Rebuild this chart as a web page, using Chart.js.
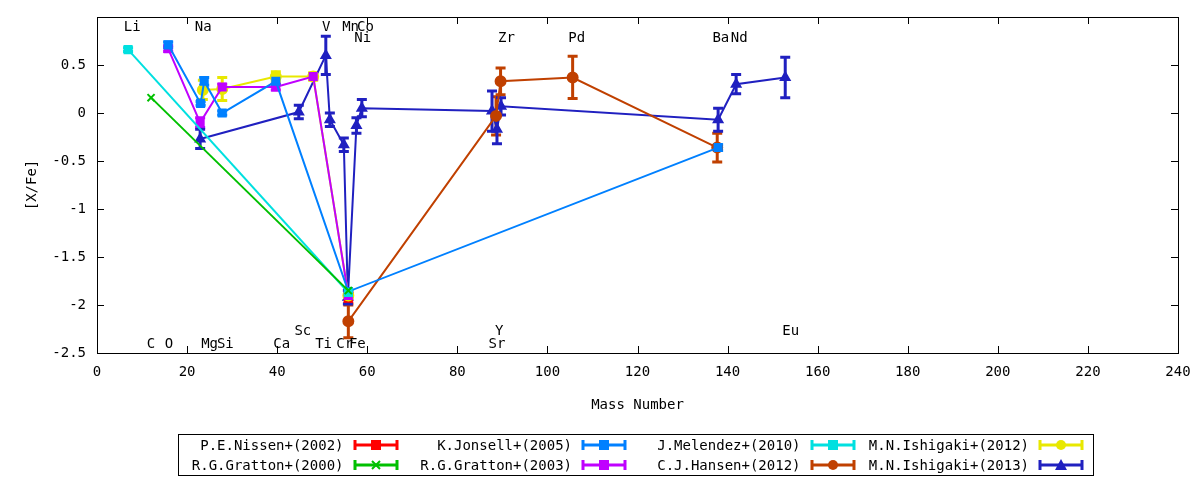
<!DOCTYPE html>
<html><head><meta charset="utf-8">
<script src="https://cdn.jsdelivr.net/npm/chart.js@4/dist/chart.umd.min.js"></script>
<style>
body{margin:0;background:#fff;}
#wrap{position:relative;width:1200px;height:480px;}
#legend{position:absolute;left:178px;top:434px;width:914px;height:40px;border:1px solid #000;
 font:14px "DejaVu Sans Mono",monospace;display:grid;grid-template-columns:repeat(4,1fr);}
.it{display:flex;align-items:center;justify-content:flex-end;padding-right:8px;height:20px;}
.it span{margin-right:8px;}
</style></head><body>
<div id="wrap"><canvas id="c" width="1200" height="480"></canvas><div id="legend"></div></div>
<script>
var nissenX = [55.8], nissenY = [-1.93], nissenE = [0.05];
var gratton00X = [12, 55.8], gratton00Y = [0.16, -1.85], gratton00E = [0, 0];
var jonsellX = [15.8, 23, 23.8, 27.8, 39.7, 55.8, 137.9], jonsellY = [0.71, 0.10, 0.33, 0.0, 0.33, -1.86, -0.36], jonsellE = [0.03, 0.02, 0.04, 0.02, 0.03, 0.02, 0.03];
var gratton03X = [15.8, 22.9, 27.8, 39.7, 48, 55.8], gratton03Y = [0.67, -0.10, 0.27, 0.27, 0.38, -1.90], gratton03E = [0.03, 0.05, 0.03, 0.03, 0.03, 0.03];
var melendezX = [6.9, 55.8], melendezY = [0.66, -1.87], melendezE = [0.02, 0.02];
var hansenX = [55.8, 88.6, 89.6, 105.6, 137.7], hansenY = [-2.17, -0.03, 0.33, 0.37, -0.36], hansenE = [0.17, 0.2, 0.14, 0.22, 0.15];
var ishi12X = [23.5, 27.8, 39.7, 48, 55.8], ishi12Y = [0.24, 0.25, 0.38, 0.38, -1.9], ishi12E = [0.1, 0.12, 0.05, 0.04, 0.03];
var ishi13X = [22.9, 44.8, 50.8, 51.7, 54.8, 55.7, 57.6, 58.8, 87.7, 88.8, 89.7, 137.9, 141.9, 152.8];
var ishi13Y = [-0.27, 0.01, 0.6, -0.07, -0.33, -1.92, -0.13, 0.05, 0.02, -0.17, 0.07, -0.07, 0.30, 0.37];
var ishi13E = [0.1, 0.07, 0.2, 0.07, 0.07, 0.07, 0.08, 0.09, 0.21, 0.15, 0.09, 0.12, 0.1, 0.21];

var elemNames = ["Li","Na","V","Mn","Co","Ni","Zr","Pd","Ba","Nd","C","O","Mg","Si","Ca","Sc","Ti","Cr","Fe","Y","Sr","Eu"];
var elemX = [7.8,23.6,50.9,56.3,59.6,59,90.9,106.5,138.5,142.6,12,16,25,28.5,41,45.7,50.3,55,57.8,89.3,88.8,154];
var elemY = [0.89,0.89,0.89,0.89,0.89,0.78,0.78,0.78,0.78,0.78,-2.41,-2.41,-2.41,-2.41,-2.41,-2.27,-2.41,-2.41,-2.41,-2.27,-2.41,-2.27];

function pts(xs, ys) { return xs.map(function(x, i){ return {x: x, y: ys[i]}; }); }

var series = [
	{label: "P.E.Nissen+(2002)", x: nissenX, y: nissenY, e: nissenE, color: "#ff0000", style: "rect"},
	{label: "K.Jonsell+(2005)", x: jonsellX, y: jonsellY, e: jonsellE, color: "#0080ff", style: "rect"},
	{label: "J.Melendez+(2010)", x: melendezX, y: melendezY, e: melendezE, color: "#00e0e0", style: "rect"},
	{label: "M.N.Ishigaki+(2012)", x: ishi12X, y: ishi12Y, e: ishi12E, color: "#e8e800", style: "circle"},
	{label: "R.G.Gratton+(2000)", x: gratton00X, y: gratton00Y, e: gratton00E, color: "#00c000", style: "crossRot"},
	{label: "R.G.Gratton+(2003)", x: gratton03X, y: gratton03Y, e: gratton03E, color: "#c000ff", style: "rect"},
	{label: "C.J.Hansen+(2012)", x: hansenX, y: hansenY, e: hansenE, color: "#c04000", style: "circle"},
	{label: "M.N.Ishigaki+(2013)", x: ishi13X, y: ishi13Y, e: ishi13E, color: "#2020c0", style: "triangle"}
];
var drawOrder = [4, 2, 1, 5, 3, 0, 6, 7];

var datasets = drawOrder.map(function(i){
	var s = series[i];
	return {
		label: s.label, data: pts(s.x, s.y), errs: s.e,
		borderColor: s.color, backgroundColor: s.color, borderWidth: 2,
		pointStyle: s.style, pointRadius: 5, pointBorderWidth: 2,
		showLine: true, lineTension: 0
	};
});

var FONT = '"DejaVu Sans Mono", monospace';

var extras = {
	id: "extras",
	beforeDatasetsDraw: function(chart){
		var ctx = chart.ctx, xs = chart.scales.x, ys = chart.scales.y;
		ctx.save();
		chart.data.datasets.forEach(function(ds){
			ctx.strokeStyle = ds.borderColor; ctx.lineWidth = 3;
			ds.data.forEach(function(p, i){
				var e = ds.errs[i]; if (!e) return;
				var px = xs.getPixelForValue(p.x), a = ys.getPixelForValue(p.y + e), b = ys.getPixelForValue(p.y - e);
				ctx.beginPath();
				ctx.moveTo(px, a); ctx.lineTo(px, b);
				ctx.moveTo(px - 5, a); ctx.lineTo(px + 5, a);
				ctx.moveTo(px - 5, b); ctx.lineTo(px + 5, b);
				ctx.stroke();
			});
		});
		ctx.restore();
	},
	afterDraw: function(chart){
		var ctx = chart.ctx, xs = chart.scales.x, ys = chart.scales.y, a = chart.chartArea;
		ctx.save();
		ctx.strokeStyle = "#000"; ctx.lineWidth = 1;
		ctx.strokeRect(a.left + 0.5, a.top + 0.5, a.right - a.left, a.bottom - a.top);
		ctx.beginPath();
		xs.ticks.forEach(function(t){
			var px = Math.round(xs.getPixelForValue(t.value)) + 0.5;
			ctx.moveTo(px, a.bottom); ctx.lineTo(px, a.bottom - 7);
			ctx.moveTo(px, a.top); ctx.lineTo(px, a.top + 7);
		});
		ys.ticks.forEach(function(t){
			var py = Math.round(ys.getPixelForValue(t.value)) + 0.5;
			ctx.moveTo(a.left, py); ctx.lineTo(a.left + 7, py);
			ctx.moveTo(a.right, py); ctx.lineTo(a.right - 7, py);
		});
		ctx.stroke();
		ctx.fillStyle = "#000"; ctx.font = "14px " + FONT;
		ctx.textAlign = "center"; ctx.textBaseline = "middle";
		elemNames.forEach(function(n, i){
			ctx.fillText(n, xs.getPixelForValue(elemX[i]), ys.getPixelForValue(elemY[i]));
		});
		ctx.fillText("Mass Number", (a.left + a.right) / 2, 405);
		ctx.translate(32, (a.top + a.bottom) / 2);
		ctx.rotate(-Math.PI / 2);
		ctx.fillText("[X/Fe]", 0, 0);
		ctx.restore();
	}
};

var chart = new Chart(document.getElementById("c"), {
	type: "scatter",
	data: {datasets: datasets},
	options: {
		responsive: false, animation: false,
		layout: {padding: {left: 0, right: 22, top: 17, bottom: 0}},
		plugins: {legend: {display: false}, tooltip: {enabled: false}},
		scales: {
			x: {min: 0, max: 240, ticks: {stepSize: 20, color: "#000", font: {family: FONT, size: 14}, maxRotation: 0},
				grid: {display: false}, border: {display: false},
				afterFit: function(s){ s.height = 127; }},
			y: {min: -2.5, max: 1, ticks: {stepSize: 0.5, color: "#000", font: {family: FONT, size: 14},
				callback: function(v){ return v >= 1 ? "" : v; }},
				grid: {display: false}, border: {display: false},
				afterFit: function(s){ s.width = 97; }}
		}
	},
	plugins: [extras]
});

// legend in gnuplot style
var lg = document.getElementById("legend");
series.forEach(function(s){
	var d = document.createElement("div"); d.className = "it";
	var sp = document.createElement("span"); sp.textContent = s.label; d.appendChild(sp);
	var cv = document.createElement("canvas"); cv.width = 48; cv.height = 14; d.appendChild(cv);
	var c = cv.getContext("2d");
	c.strokeStyle = s.color; c.fillStyle = s.color; c.lineWidth = 3;
	c.beginPath(); c.moveTo(3, 7); c.lineTo(45, 7); c.moveTo(3, 2); c.lineTo(3, 12); c.moveTo(45, 2); c.lineTo(45, 12); c.stroke();
	c.beginPath();
	if (s.style === "rect") c.fillRect(19, 2, 10, 10);
	else if (s.style === "circle") { c.arc(24, 7, 5, 0, 7); c.fill(); }
	else if (s.style === "triangle") { c.moveTo(24, 1); c.lineTo(30, 12); c.lineTo(18, 12); c.fill(); }
	else { c.lineWidth = 2; c.moveTo(20, 3); c.lineTo(28, 11); c.moveTo(28, 3); c.lineTo(20, 11); c.stroke(); }
	lg.appendChild(d);
});
</script>
</body></html>
